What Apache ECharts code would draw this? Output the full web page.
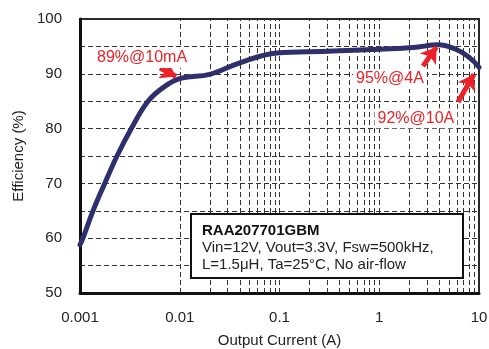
<!DOCTYPE html>
<html><head><meta charset="utf-8">
<script src="https://cdn.jsdelivr.net/npm/echarts@6/dist/echarts.min.js"></script>
<style>html,body{margin:0;padding:0;background:#fff}#c{width:489px;height:349px}</style>
</head><body><div id="c"></div>
<script>
// ---- data ----
const currentA   = [0.001, 0.00107, 0.00135, 0.00177, 0.00235, 0.00327, 0.00481, 0.0072, 0.0104, 0.02, 0.04, 0.094, 0.3, 1, 2.2, 3.9, 6, 8.1, 10];
const efficiency = [58.8, 60, 65, 70, 75, 80, 85, 87.8, 89.2, 89.9, 92.0, 93.8, 94.1, 94.5, 94.8, 95.3, 94.4, 92.9, 91.2];
const xTickLabels = ['0.001', '0.01', '0.1', '1', '10'];
const yTickLabels = ['50', '60', '70', '80', '90', '100'];
const minorMantissas = [1, 2, 3, 4, 5, 6, 7, 8, 9];
const decadeStarts = [0.001, 0.01, 0.1, 1];
const annotationTexts = ['89%@10mA', '95%@4A', '92%@10A'];
const annotationAt = [[0.00419, 92.9], [1.28, 89.05], [2.33, 81.9]];
const arrowFrom = [[0.00634, 91.06], [2.74, 91.4], [6.16, 84.85]];
const arrowTo   = [[0.0092, 89.5], [3.75, 94.9], [8.9, 89.9]];
const infoTitle = 'RAA207701GBM';
const infoLines = ['Vin=12V, Vout=3.3V, Fsw=500kHz,', 'L=1.5μH, Ta=25°C, No air-flow'];

const FONT = 'Liberation Sans, Arial, sans-serif';
const RED = '#ec2227';
const DASH = [5, 3];

const vGrid = [];
decadeStarts.forEach(d => minorMantissas.forEach(m => {
  const v = +(d * m).toPrecision(3);
  if (v > 0.001) vGrid.push({ xAxis: v });
}));

const chart = echarts.init(document.getElementById('c'), null, { renderer: 'canvas' });
chart.setOption({
  animation: false,
  backgroundColor: '#fff',
  grid: { left: 80, right: 10, top: 19, bottom: 56, outerBoundsMode: 'none', containLabel: false,
    show: true, borderColor: '#2a2a2a', borderWidth: 2, backgroundColor: 'transparent' },
  xAxis: {
    type: 'log', logBase: 10, min: 0.001, max: 10,
    name: 'Output Current (A)', nameLocation: 'middle', nameGap: 40,
    nameTextStyle: { fontFamily: FONT, fontSize: 15, color: '#222' },
    axisLine: { show: true, lineStyle: { color: '#111', width: 3 } },
    axisTick: { show: false },
    axisLabel: { fontFamily: FONT, fontSize: 15, color: '#222', margin: 17,
      formatter: v => xTickLabels[Math.round(Math.log10(v)) + 3] || '' },
    splitLine: { show: false }
  },
  yAxis: {
    type: 'value', min: 50, max: 100, interval: 5,
    name: 'Efficiency (%)', nameLocation: 'middle', nameGap: 50, nameRotate: 90,
    nameTextStyle: { fontFamily: FONT, fontSize: 15, color: '#222' },
    axisLine: { show: true, lineStyle: { color: '#111', width: 3 } },
    axisTick: { show: false },
    axisLabel: { fontFamily: FONT, fontSize: 15, color: '#222', margin: 18,
      formatter: v => (v % 10 === 0 ? yTickLabels[(v - 50) / 10] : '') },
    splitLine: { show: true, lineStyle: { color: '#333', width: 1, type: DASH } }
  },
  series: [
    {
      type: 'line', z: 1, silent: true,
      data: currentA.map((x, i) => [x, efficiency[i]]),
      showSymbol: false, lineStyle: { opacity: 0 },
      markLine: { silent: true, symbol: ['none', 'none'], label: { show: false },
        lineStyle: { color: '#333', width: 1, type: DASH }, data: vGrid }
    },
    {
      type: 'line', z: 3,
      data: currentA.map((x, i) => [x, efficiency[i]]),
      showSymbol: false, smooth: 0.4,
      lineStyle: { color: '#2d2f6e', width: 5, cap: 'round', join: 'round' }
    },
    {
      type: 'line', z: 5, data: [], silent: true,
      markLine: {
        silent: true, symbol: ['none', 'arrow'], symbolSize: 15,
        label: { show: false },
        lineStyle: { color: RED, width: 5, type: 'solid' },
        itemStyle: { color: RED },
        data: arrowFrom.map((f, i) => [{ coord: f }, { coord: arrowTo[i] }])
      },
      markPoint: {
        silent: true, symbol: 'rect', symbolSize: 1, itemStyle: { color: 'rgba(0,0,0,0)' },
        label: { show: true, position: 'inside', fontFamily: FONT, fontSize: 16, color: RED,
          backgroundColor: '#fff', padding: [2, 3] },
        data: annotationTexts.map((t, i) => ({ coord: annotationAt[i], value: t,
          label: { formatter: t } }))
      }
    }
  ],
  graphic: [
    { type: 'rect', z: 10, shape: { x: 191, y: 214, width: 272, height: 64 },
      style: { fill: '#fff', stroke: '#111', lineWidth: 2 } },
    { type: 'text', z: 11, left: 202, top: 223,
      style: { text: infoTitle, font: 'bold 15px ' + FONT, fill: '#111' } },
    { type: 'text', z: 11, left: 202, top: 240,
      style: { text: infoLines.join('\n'), font: '15px ' + FONT, fill: '#222', lineHeight: 16.5 } }
  ]
});
</script></body></html>
